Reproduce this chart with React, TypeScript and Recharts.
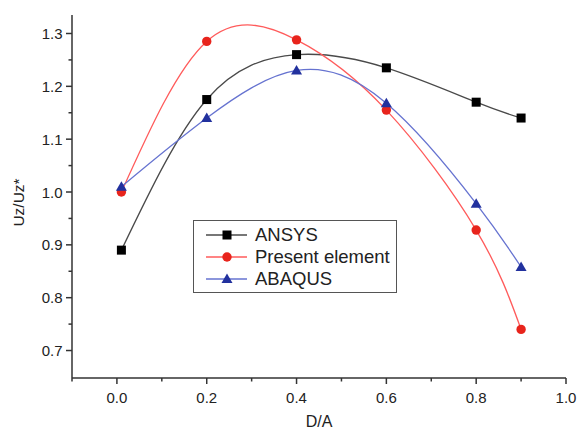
import { LineChart, Line, XAxis, YAxis, Legend, Label } from 'recharts';

// D/A ratio and normalised displacement per method
const ratios = [0.01, 0.2, 0.4, 0.6, 0.8, 0.9];
const ansys = [0.89, 1.175, 1.26, 1.235, 1.17, 1.14];
const presentElement = [1.0, 1.285, 1.288, 1.155, 0.928, 0.74];
const abaqus = [1.01, 1.14, 1.23, 1.168, 0.978, 0.858];

const xTicks = [-0.1, 0, 0.1, 0.2, 0.3, 0.4, 0.5, 0.6, 0.7, 0.8, 0.9, 1.0];
const yTicks = [0.7, 0.75, 0.8, 0.85, 0.9, 0.95, 1.0, 1.05, 1.1, 1.15, 1.2, 1.25, 1.3];

const seriesNames = ['ANSYS', 'Present element', 'ABAQUS'];

const data = ratios.map((x, i) => ({
  x,
  ansys: ansys[i],
  present: presentElement[i],
  abaqus: abaqus[i],
}));

const FONT = '"Liberation Sans", Arial, sans-serif';
const AXIS = '#333';
const TEXT = '#222';

const LINE_COLORS = ['#4a4a4a', '#ff5b5b', '#6673d0'];
const MARK_COLORS = ['#000000', '#e8241c', '#22319e'];

function Square({ cx, cy, color }: any) {
  return <rect x={cx - 4.5} y={cy - 4.5} width={9} height={9} fill={color} />;
}

function Circle({ cx, cy, color }: any) {
  return <circle cx={cx} cy={cy} r={4.7} fill={color} />;
}

function Triangle({ cx, cy, color }: any) {
  return (
    <polygon
      points={`${cx},${cy - 5.5} ${cx + 5.5},${cy + 4} ${cx - 5.5},${cy + 4}`}
      fill={color}
    />
  );
}

const markers = [Square, Circle, Triangle];

function XTick({ x, y, payload }: any) {
  const v = payload.value;
  const major = Math.round(v * 10) % 2 === 0;
  return (
    <g>
      <line x1={x} y1={y} x2={x} y2={y + (major ? 6 : 3.5)} stroke={AXIS} strokeWidth={1.5} />
      {major && (
        <text x={x} y={y + 24.5} textAnchor="middle" fontSize={15} fill={TEXT} fontFamily={FONT}>
          {v.toFixed(1)}
        </text>
      )}
    </g>
  );
}

function YTick({ x, y, payload }: any) {
  const v = payload.value;
  const major = Math.round(v * 100) % 10 === 0;
  return (
    <g>
      <line x1={x} y1={y} x2={x - (major ? 6 : 3.5)} y2={y} stroke={AXIS} strokeWidth={1.5} />
      {major && (
        <text x={x - 9.5} y={y + 5.5} textAnchor="end" fontSize={15} fill={TEXT} fontFamily={FONT}>
          {v.toFixed(1)}
        </text>
      )}
    </g>
  );
}

function LegendBox() {
  return (
    <div
      style={{
        width: 202,
        height: 71,
        border: '1px solid #555',
        background: '#fff',
        fontFamily: FONT,
        fontSize: 18.5,
        color: TEXT,
        boxSizing: 'content-box',
        whiteSpace: 'nowrap',
      }}
    >
      {seriesNames.map((name, i) => {
        const Marker = markers[i];
        return (
          <div key={name} style={{ display: 'flex', alignItems: 'center', height: 22, marginTop: i === 0 ? 3 : 0 }}>
            <svg width={61} height={22} style={{ display: 'block', flex: 'none' }}>
              <line x1={12} y1={11} x2={53} y2={11} stroke={LINE_COLORS[i]} strokeWidth={1.3} />
              <Marker cx={33} cy={11} color={MARK_COLORS[i]} />
            </svg>
            <span style={{ lineHeight: '22px' }}>{name}</span>
          </div>
        );
      })}
    </div>
  );
}

export default function App() {
  const keys = ['ansys', 'present', 'abaqus'];
  return (
    <div style={{ position: 'absolute', left: 0, top: 0, background: '#fff' }}>
      <LineChart width={585} height={434} data={data} margin={{ top: 15, right: 19, bottom: 0, left: 0 }}>
        <XAxis
          dataKey="x"
          type="number"
          domain={[-0.1, 1.0]}
          ticks={xTicks}
          interval={0}
          height={56}
          tickSize={0}
          tickMargin={0}
          tickLine={false}
          tick={<XTick />}
          axisLine={{ stroke: AXIS, strokeWidth: 1.5 }}
          allowDataOverflow
        >
          <Label
            content={({ viewBox }: any) => (
              <text
                x={viewBox.x + viewBox.width / 2}
                y={viewBox.y + 48.5}
                textAnchor="middle"
                fontSize={16}
                fill={TEXT}
                fontFamily={FONT}
              >
                D/A
              </text>
            )}
          />
        </XAxis>
        <YAxis
          type="number"
          domain={[0.648, 1.335]}
          ticks={yTicks}
          interval={0}
          width={72}
          tickSize={0}
          tickMargin={0}
          tickLine={false}
          tick={<YTick />}
          axisLine={{ stroke: AXIS, strokeWidth: 1.5 }}
          allowDataOverflow
        >
          <Label
            content={({ viewBox }: any) => {
              const lx = viewBox.x + 24;
              const ly = viewBox.y + viewBox.height / 2 + 6;
              return (
                <text
                  x={lx}
                  y={ly}
                  transform={`rotate(-90 ${lx} ${ly})`}
                  textAnchor="middle"
                  fontSize={15.5}
                  fill={TEXT}
                  fontFamily={FONT}
                >
                  Uz/Uz*
                </text>
              );
            }}
          />
        </YAxis>
        <Legend
          layout="vertical"
          align="center"
          verticalAlign="middle"
          wrapperStyle={{ left: 193, top: 220, width: 204, height: 73 }}
          content={() => <LegendBox />}
        />
        {keys.map((k, i) => {
          const Marker = markers[i];
          return (
            <Line
              key={k}
              dataKey={k}
              name={seriesNames[i]}
              type="natural"
              stroke={LINE_COLORS[i]}
              strokeWidth={1.3}
              dot={(p: any) => <Marker key={`${k}-${p.index}`} cx={p.cx} cy={p.cy} color={MARK_COLORS[i]} />}
              activeDot={false}
              isAnimationActive={false}
            />
          );
        })}
      </LineChart>
    </div>
  );
}
